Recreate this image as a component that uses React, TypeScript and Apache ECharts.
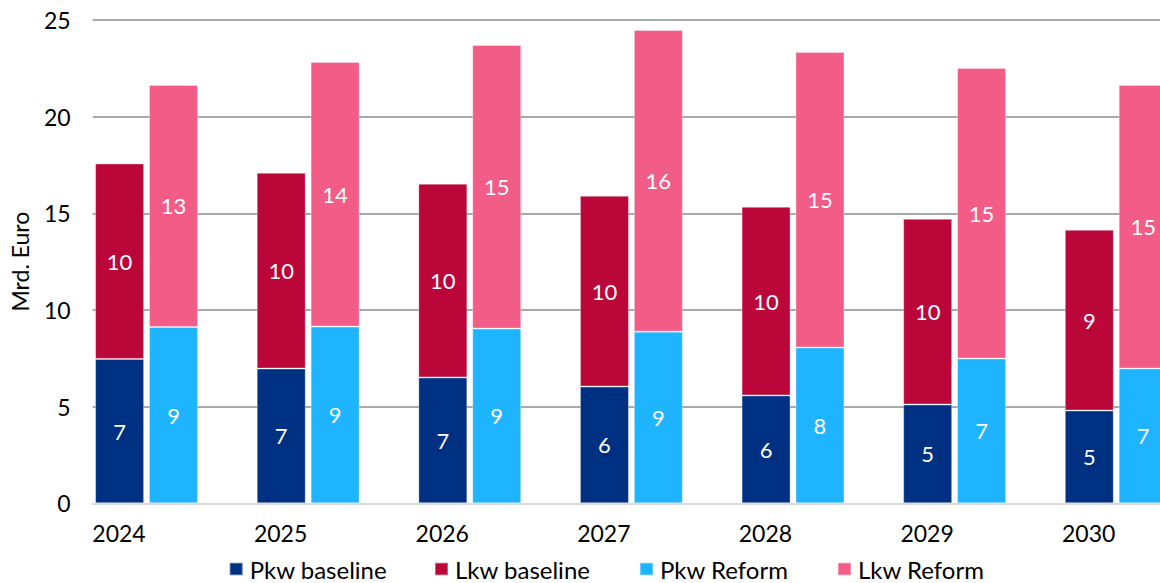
import React, { useEffect, useRef } from "react";
import * as echarts from "echarts";

const years = ["2024", "2025", "2026", "2027", "2028", "2029", "2030"];
const pkwBaseline = [7.47, 6.97, 6.51, 6.04, 5.58, 5.11, 4.8];
const lkwBaseline = [10.11, 10.13, 10.02, 9.87, 9.76, 9.61, 9.35];
const pkwReform = [9.12, 9.14, 9.04, 8.88, 8.06, 7.49, 6.97];
const lkwReform = [12.52, 13.69, 14.67, 15.6, 15.29, 15.03, 14.67];
const emptySlot = [null, null, null, null, null, null, null];
const yTicks = { min: 0, max: 25, interval: 5 };

const FONT = "Lato";
const colors = {
  pkwBaseline: "#003082",
  lkwBaseline: "#BA0639",
  pkwReform: "#1EB4FF",
  lkwReform: "#F25C86",
};

export default function App() {
  const ref = useRef<HTMLDivElement>(null);
  useEffect(() => {
    if (!ref.current) return;
    const chart = echarts.init(ref.current, undefined, { renderer: "svg" });
    const label = {
      show: true,
      position: "inside",
      color: "#ffffff",
      fontFamily: FONT,
      fontSize: 22,
      formatter: (p: any) => String(Math.round(p.value)),
    };
    const itemStyleFor = (c: string) => ({
      color: c,
      borderColor: "rgba(255,255,255,0.35)",
      borderWidth: 1,
    });
    const bar = (name: string, data: any[], stack: string, c: string) => ({
      name,
      type: "bar",
      stack,
      data,
      barWidth: 49,
      barGap: "10%",
      label,
      itemStyle: itemStyleFor(c),
    });
    const legend = (name: string, left: number) => ({
      data: [name],
      left,
      top: 557,
      padding: 0,
      itemWidth: 13,
      itemHeight: 12.5,
      icon: "rect",
      selectedMode: false,
      textStyle: {
        fontFamily: FONT,
        fontSize: 24,
        color: "#000",
        padding: [0, 0, 0, 2],
      },
    });
    chart.setOption({
      animation: false,
      textStyle: { fontFamily: FONT },
      grid: { left: 92.7, right: 0, top: 20, bottom: 79.7 },
      legend: [
        legend("Pkw baseline", 228.7),
        legend("Lkw baseline", 434),
        legend("Pkw Reform", 639),
        legend("Lkw Reform", 837),
      ],
      xAxis: {
        type: "category",
        data: years,
        axisTick: { show: false },
        axisLine: { show: true, lineStyle: { color: "#d9d9d9", width: 2 } },
        axisLabel: {
          fontFamily: FONT,
          fontSize: 23,
          color: "#000",
          margin: 18,
          padding: [0, 109, 0, 0],
        },
      },
      yAxis: {
        type: "value",
        min: yTicks.min,
        max: yTicks.max,
        interval: yTicks.interval,
        name: "Mrd. Euro",
        nameLocation: "middle",
        nameGap: 61,
        nameTextStyle: {
          fontFamily: FONT,
          fontSize: 23,
          color: "#000",
        },
        axisLine: { show: false },
        axisTick: { show: false },
        axisLabel: { fontFamily: FONT, fontSize: 23, color: "#000", margin: 22 },
        splitLine: { lineStyle: { color: "#a9a9a9", width: 2 } },
      },
      series: [
        bar("Pkw baseline", pkwBaseline, "baseline", colors.pkwBaseline),
        bar("Lkw baseline", lkwBaseline, "baseline", colors.lkwBaseline),
        bar("Pkw Reform", pkwReform, "reform", colors.pkwReform),
        bar("Lkw Reform", lkwReform, "reform", colors.lkwReform),
        {
          name: "empty",
          type: "bar",
          stack: "empty",
          data: emptySlot,
          barWidth: 49,
          barGap: "10%",
        },
      ],
    });
    return () => chart.dispose();
  }, []);
  return (
    <div
      style={{
        position: "absolute",
        left: 0,
        top: 0,
        width: 1160,
        height: 583,
        overflow: "hidden",
        background: "#fff",
      }}
    >
      <div ref={ref} style={{ width: 1224, height: 583 }} />
    </div>
  );
}
